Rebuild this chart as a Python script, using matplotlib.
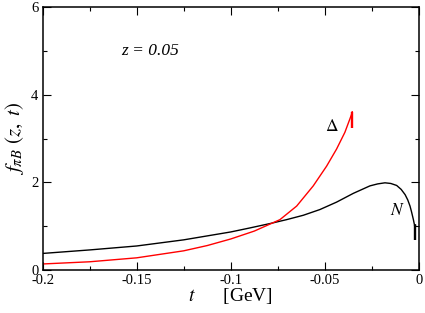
import matplotlib
matplotlib.use('Agg')
import matplotlib.pyplot as plt
import numpy as np

matplotlib.rcParams['font.family'] = 'Liberation Serif'
matplotlib.rcParams['mathtext.fontset'] = 'stix'

# nucleon curve
t_N = [-0.2, -0.175, -0.15, -0.125, -0.1, -0.09, -0.0793, -0.0704, -0.0615,
       -0.0527, -0.0438, -0.0349, -0.0261, -0.022, -0.0181, -0.015, -0.0119,
       -0.0095, -0.0074, -0.006, -0.0048, -0.004, -0.003, -0.0021, -0.0019, -0.0019]
f_N = [0.38, 0.46, 0.55, 0.69, 0.87, 0.96, 1.06, 1.15, 1.25,
       1.38, 1.55, 1.75, 1.92, 1.965, 1.99, 1.975, 1.93,
       1.84, 1.72, 1.60, 1.46, 1.33, 1.15, 0.96, 1.03, 0.69]

# Delta curve
t_D = [-0.2, -0.175, -0.15, -0.125, -0.1125, -0.1, -0.0875, -0.0739, -0.065,
       -0.0562, -0.0491, -0.0438, -0.0394, -0.0367, -0.0356, -0.0355, -0.0355]
f_D = [0.14, 0.19, 0.28, 0.44, 0.56, 0.71, 0.89, 1.15, 1.46,
       1.92, 2.37, 2.76, 3.14, 3.45, 3.58, 3.61, 3.24]

xticks = [-0.2, -0.15, -0.1, -0.05, 0]
xtick_labels = ['-0.2', '-0.15', '-0.1', '-0.05', '0']
yticks = [0, 2, 4, 6]

fig = plt.figure(figsize=(4.25, 3.13), dpi=100)
ax = fig.add_axes([0.1, 0.137, 0.886, 0.841])

ax.plot(t_N[:-1], f_N[:-1], color='black', lw=1.0)
ax.plot(t_N[-2:], f_N[-2:], color='black', lw=1.7, solid_capstyle='butt')
ax.plot(t_D[:-1], f_D[:-1], color='red', lw=1.0)
ax.plot(t_D[-2:], f_D[-2:], color='red', lw=1.7, solid_capstyle='butt')

ax.set_xlim(-0.2, 0)
ax.set_ylim(0, 6)
ax.set_xticks(xticks)
ax.set_xticklabels(xtick_labels)
ax.set_xticks([-0.175, -0.125, -0.075, -0.025], minor=True)
ax.set_yticks(yticks)
ax.set_yticks([1, 3, 5], minor=True)

ax.tick_params(axis='both', which='both', direction='in', top=True, right=True,
               labelsize=10.5, width=0.8)
ax.tick_params(axis='both', which='major', length=5.5, pad=3)
ax.tick_params(axis='both', which='minor', length=3)
for s in ax.spines.values():
    s.set_linewidth(1.1)

ax.text(-0.158, 5.0, 'z = 0.05', fontsize=12.5, va='center', ha='left',
        style='italic')
ax.text(-0.0463, 3.26, r'$\Delta$', fontsize=12.5, ha='center', va='center')
ax.text(-0.0117, 1.34, r'$N$', fontsize=12.5, ha='center', va='center')

ax.set_xlabel(r'$t$      [GeV]', fontsize=14, labelpad=-1)
ax.set_ylabel(r'$f_{\pi B}\ (z,\ t)$', fontsize=15, labelpad=4)

plt.savefig('out.png', dpi=100)
